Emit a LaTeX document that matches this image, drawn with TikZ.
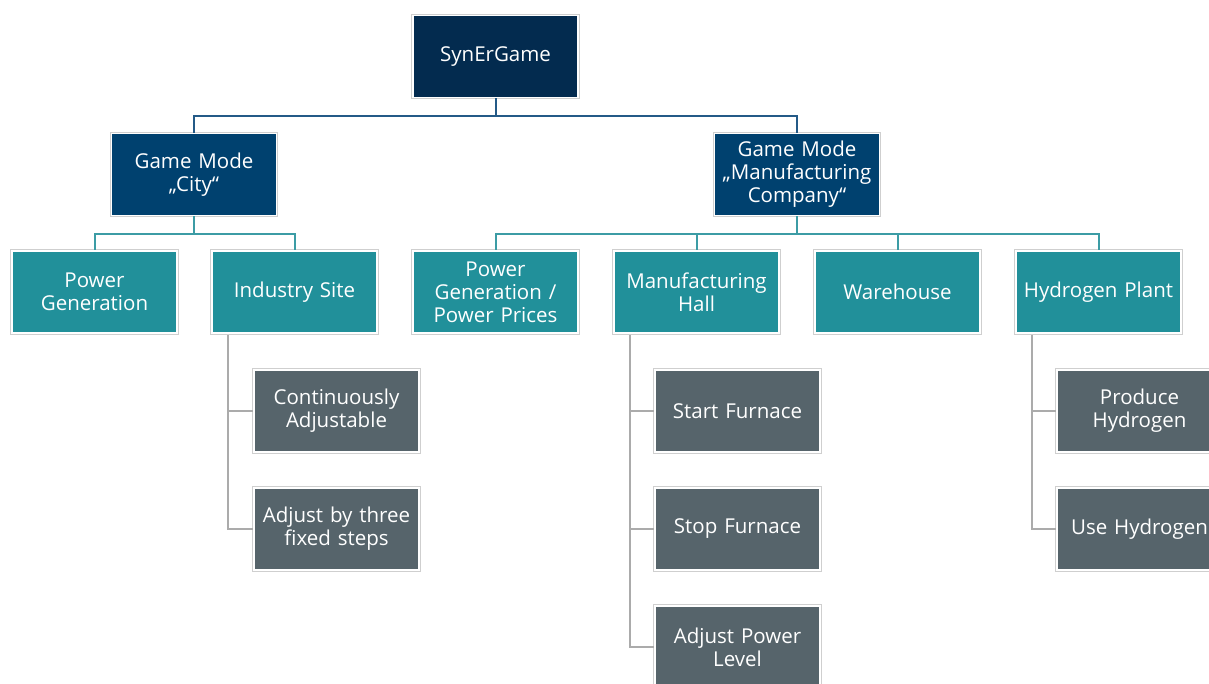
\documentclass[tikz,border=0pt]{standalone}
\usepackage{fontspec}
\setmainfont{Open Sans}
\definecolor{navytop}{HTML}{032B4F}
\definecolor{navy}{HTML}{00416F}
\definecolor{teal}{HTML}{21909A}
\definecolor{slate}{HTML}{56646B}
\definecolor{lnavy}{HTML}{245A87}
\definecolor{lteal}{HTML}{3C9CA5}
\definecolor{lgray}{HTML}{ABABAB}
\definecolor{edge}{HTML}{CFCFCF}
\tikzset{
  box/.style={rectangle, minimum width=165pt, minimum height=82pt, text width=164pt,
    align=center, text=white, inner sep=0pt,
    font=\fontsize{20.5}{23}\selectfont,
    preaction={draw=edge, line width=3.6pt}, draw=white, line width=1.6pt},
  topbox/.style={box, fill=navytop},
  modebox/.style={box, fill=navy},
  areabox/.style={box, fill=teal},
  actbox/.style={box, fill=slate},
  l1/.style={draw=lnavy, line width=2pt},
  l2/.style={draw=lteal, line width=2pt},
  l3/.style={draw=lgray, line width=2pt}
}
\begin{document}
\begin{tikzpicture}[x=1pt,y=-1pt]
\clip (0,0) rectangle (1209,684);
\fill[white] (0,0) rectangle (1209,684);
\node[topbox] (syn) at (495.5,56.5) {SynErGame};
\node[modebox] (city) at (194,174.5) {Game Mode\\„City“};
\node[modebox] (manu) at (797,174.5) {Game Mode\\„Manufacturing\\Company“};
\node[areabox] (pg) at (94.5,292) {Power\\Generation};
\node[areabox] (ind) at (294.5,292) {Industry Site};
\node[areabox] (pgp) at (495.5,292) {Power\\Generation /\\Power Prices};
\node[areabox] (mh) at (696.5,292) {Manufacturing\\Hall};
\node[areabox] (wh) at (897.5,292) {Warehouse};
\node[areabox] (hp) at (1098.5,292) {Hydrogen Plant};
\node[actbox] (ca) at (336.5,411) {Continuously\\Adjustable};
\node[actbox] (ab) at (336.5,529) {Adjust by three\\fixed steps};
\node[actbox] (sf) at (737.5,411) {Start Furnace};
\node[actbox] (stf) at (737.5,529) {Stop Furnace};
\node[actbox] (apl) at (737.5,647) {Adjust Power\\Level};
\node[actbox] (ph) at (1139.5,411) {Produce\\Hydrogen};
\node[actbox] (uh) at (1139.5,529) {Use Hydrogen};
% level 1
\draw[l1] (syn.south) -- ++(0,18) -| (city.north);
\draw[l1] (syn.south) -- ++(0,18) -| (manu.north);
% level 2
\draw[l2] (city.south) -- ++(0,18) -| (pg.north);
\draw[l2] (city.south) -- ++(0,18) -| (ind.north);
\draw[l2] (manu.south) -- ++(0,18) -| (pgp.north);
\draw[l2] (manu.south) -- ++(0,18) -| (mh.north);
\draw[l2] (manu.south) -- ++(0,18) -| (wh.north);
\draw[l2] (manu.south) -- ++(0,18) -| (hp.north);
% level 3
\draw[l3] (ind.south west) ++(17,1.5) |- (ca.west);
\draw[l3] (ind.south west) ++(17,1.5) |- (ab.west);
\draw[l3] (mh.south west) ++(17,1.5) |- (sf.west);
\draw[l3] (mh.south west) ++(17,1.5) |- (stf.west);
\draw[l3] (mh.south west) ++(17,1.5) |- (apl.west);
\draw[l3] (hp.south west) ++(17,1.5) |- (ph.west);
\draw[l3] (hp.south west) ++(17,1.5) |- (uh.west);
\end{tikzpicture}
\end{document}
